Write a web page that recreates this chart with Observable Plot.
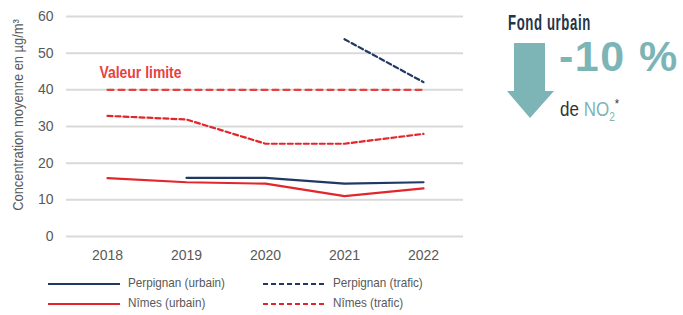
<!DOCTYPE html>
<html>
<head>
<meta charset="utf-8">
<script src="https://cdn.jsdelivr.net/npm/d3@7"></script>
<script src="https://cdn.jsdelivr.net/npm/@observablehq/plot@0.6"></script>
<style>
  body { margin: 0; background: #fff; }
  #wrap { position: relative; width: 683px; height: 315px; overflow: hidden; font-family: "Liberation Sans", sans-serif; }
  #chart { position: absolute; left: 0; top: 0; }
  .leg { position: absolute; font-size: 13px; color: #595959; line-height: 14px; white-space: nowrap; transform-origin: 0 0; transform: scaleX(0.9); }
  .legline { position: absolute; }
  #fond { position: absolute; left: 508px; top: 10px; font-size: 22px; font-weight: bold; color: #1f3549; letter-spacing: 1px; white-space: nowrap; transform-origin: 0 0; transform: scaleX(0.6); }
  #pct { position: absolute; left: 559px; top: 32px; font-size: 43px; font-weight: bold; color: #7db4b5; letter-spacing: 1.5px; white-space: nowrap; }
  #de { position: absolute; left: 560px; top: 96px; font-size: 20px; color: #333; white-space: nowrap; transform-origin: 0 0; transform: scaleX(0.85); }
  #de .no2 { color: #7db4b5; }
  #arrow { position: absolute; left: 505px; top: 40px; }
  #ylab { position: absolute; left: 18px; top: 114.5px; font-size: 15px; color: #595959; white-space: nowrap; line-height: 16px; transform-origin: 0 0; transform: rotate(-90deg) scaleX(0.86) translate(-50%, -50%); }
</style>
</head>
<body>
<div id="wrap">
  <div id="chart"></div>
  <div id="ylab">Concentration moyenne en µg/m³</div>
  <svg id="arrow" width="52" height="80"><polygon points="9,3 40,3 40,51 49,51 25,78 2,51 9,51" fill="#7db4b5"/></svg>
  <div id="fond">Fond urbain</div>
  <div id="pct">-10 %</div>
  <div id="de">de <span class="no2">NO<sub style="font-size:12px">2</sub></span><sup style="font-size:13px">*</sup></div>
  <div id="legend"></div>
</div>
<script>
const years = [2018, 2019, 2020, 2021, 2022];
const perpignanUrbain = [null, 16.0, 16.0, 14.4, 14.8];
const perpignanTrafic = [null, null, null, 53.8, 42.1];
const nimesUrbain = [15.9, 14.8, 14.4, 11.0, 13.1];
const nimesTrafic = [32.9, 31.9, 25.3, 25.3, 28.0];
const valeurLimite = 40;
const yTicks = [0, 10, 20, 30, 40, 50, 60];
const seriesNames = ["Perpignan (urbain)", "Perpignan (trafic)", "Nîmes (urbain)", "Nîmes (trafic)"];

const navy = "#1f3864", red = "#e3262b";
const styles = {
  "Perpignan (urbain)": {stroke: navy, dash: null},
  "Perpignan (trafic)": {stroke: navy, dash: "5,3"},
  "Nîmes (urbain)": {stroke: red, dash: null},
  "Nîmes (trafic)": {stroke: red, dash: "5,3"}
};
const seriesValues = [perpignanUrbain, perpignanTrafic, nimesUrbain, nimesTrafic];
const rows = [];
seriesNames.forEach((name, i) => years.forEach((yr, j) => rows.push({series: name, year: yr, value: seriesValues[i][j]})));
const limitRows = years.map(yr => ({year: yr, value: valeurLimite}));

const lineMarks = seriesNames.map(name => Plot.line(rows.filter(r => r.series === name), {
  x: "year", y: "value", stroke: styles[name].stroke, strokeWidth: 2.2,
  strokeDasharray: styles[name].dash, curve: "linear"
}));

const plot = Plot.plot({
  width: 683, height: 270,
  marginLeft: 66, marginRight: 220, marginTop: 16, marginBottom: 34,
  style: {fontFamily: "'Liberation Sans', sans-serif", fontSize: "14px", background: "transparent"},
  x: {type: "point", domain: years, padding: 0.5},
  y: {domain: [0, 60]},
  marks: [
    Plot.gridY(yTicks, {stroke: "#d9d9d9", strokeOpacity: 1, strokeWidth: 2}),
    Plot.axisY(yTicks, {tickSize: 0, tickPadding: 13, color: "#595959", fontSize: 14, label: null}),
    Plot.axisX(years, {tickSize: 0, tickPadding: 14, color: "#595959", fontSize: 14, label: null, tickFormat: d => String(d)}),
    Plot.line(limitRows, {x: "year", y: "value", stroke: "#e8403f", strokeWidth: 2.2, strokeDasharray: "6,5"}),
    Plot.text([{year: 2018, value: valeurLimite}], {x: "year", y: "value", text: () => "Valeur limite",
      textAnchor: "start", dx: -8, dy: -17, fill: "#e8403f", fontSize: 16, fontWeight: "bold",
      className: "vlimit"}),
    ...lineMarks
  ]
});
document.getElementById("chart").appendChild(plot);
plot.querySelectorAll(".vlimit text").forEach(t => {
  t.setAttribute("textLength", "82");
  t.setAttribute("lengthAdjust", "spacingAndGlyphs");
});

// Legend
const legend = document.getElementById("legend");
const legPos = [
  {name: "Perpignan (urbain)", x: 48, y: 284, len: 72, tx: 128},
  {name: "Perpignan (trafic)", x: 263, y: 284, len: 64, tx: 333},
  {name: "Nîmes (urbain)", x: 48, y: 304, len: 72, tx: 128},
  {name: "Nîmes (trafic)", x: 263, y: 304, len: 64, tx: 333}
];
legPos.forEach(p => {
  const s = styles[p.name];
  const svg = `<svg class="legline" style="left:${p.x}px;top:${p.y - 3}px" width="${p.len}" height="6"><line x1="0" y1="3" x2="${p.len}" y2="3" stroke="${s.stroke}" stroke-width="2.2" ${s.dash ? `stroke-dasharray="${s.dash}"` : ""}/></svg>`;
  legend.insertAdjacentHTML("beforeend", svg + `<div class="leg" style="left:${p.tx}px;top:${p.y - 8}px">${p.name}</div>`);
});
</script>
</body>
</html>
